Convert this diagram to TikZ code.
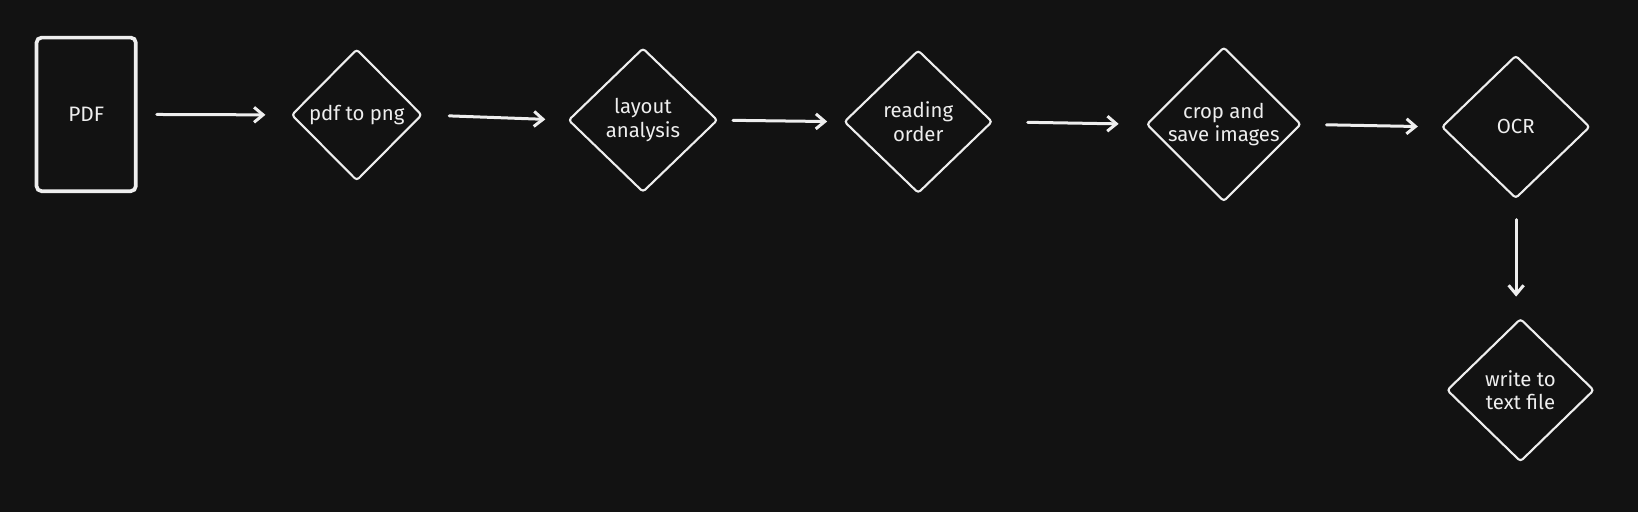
\documentclass[tikz,border=0pt]{standalone}
\usepackage{fontspec}
\setmainfont{Fira Sans}
\usetikzlibrary{shapes.geometric,arrows.meta}
\definecolor{bg}{HTML}{121212}
\definecolor{ink}{HTML}{EEEEEE}
\begin{document}
\begin{tikzpicture}[x=1pt,y=-1pt,scale=1.0446,every node/.append style={transform shape},
  dia/.style={diamond,draw=ink,line width=2.1pt,rounded corners=3pt,text=ink,align=center,
    font=\fontsize{19.5}{22.5}\selectfont,inner sep=0pt},
  conn/.style={draw=ink,line width=3pt,line cap=round,-{Straight Barb[length=9pt,width=15pt,line width=3pt]}},
]
\fill[bg] (0,0) rectangle (1568,490);
\useasboundingbox (0,0) rectangle (1568,490);
\node[draw=ink,line width=3.7pt,rounded corners=5pt,minimum width=95pt,minimum height=147pt,
  text=ink,font=\fontsize{20}{24}\selectfont,inner sep=0pt] (pdf) at (82.5,109.5) {PDF};
\node[dia,minimum width=125pt,minimum height=126pt] (d1) at (341.5,110) {pdf to png};
\node[dia,minimum width=143pt,minimum height=138pt] (d2) at (615.5,115) {layout\\analysis};
\node[dia,minimum width=142pt,minimum height=137pt] (d3) at (879,116.5) {reading\\order};
\node[dia,minimum width=143pt,minimum height=138pt] (d4) at (1171.5,119) {crop and\\save images};
\node[dia,minimum width=142pt,minimum height=137pt] (d5) at (1451,121.5) {OCR};
\node[dia,minimum width=141pt,minimum height=137pt] (d6) at (1455.5,373.5) {write to\\text file};
\draw[conn,shorten <=19pt,shorten >=25pt] (pdf.east) -- (d1.west);
\draw[conn,shorten <=26pt,shorten >=22pt] (d1.east) -- (d2.west);
\draw[conn,shorten <=14pt,shorten >=16pt] (d2.east) -- (d3.west);
\draw[conn,shorten <=34pt,shorten >=27pt] (d3.east) -- (d4.west);
\draw[conn,shorten <=24pt,shorten >=23pt] (d4.east) -- (d5.west);
\draw[conn,shorten <=20pt,shorten >=21pt] (d5.south) -- (d5.south |- d6.north);
\end{tikzpicture}
\end{document}
